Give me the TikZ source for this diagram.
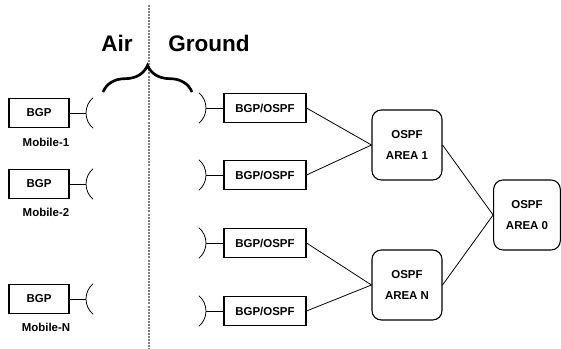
\documentclass[tikz,border=0pt]{standalone}
\usepackage{fontspec}
\setmainfont{Liberation Sans}
\usetikzlibrary{decorations.pathreplacing}
\begin{document}
\begin{tikzpicture}[x=0.75pt,y=-0.75pt,
  every node/.style={font=\fontsize{8.6}{15.75}\selectfont\bfseries, inner sep=0pt},
  mobilebox/.style={draw, line width=0.8pt, minimum width=45pt, minimum height=21.5pt},
  groundbox/.style={draw, line width=0.8pt, minimum width=61.5pt, minimum height=22pt},
  areabox/.style={draw, line width=0.8pt, rounded corners=7pt, minimum width=52.5pt, minimum height=52.5pt, align=center},
  arealabel/.style={font=\fontsize{16.9}{18}\selectfont\bfseries},
  link/.style={line width=0.6pt},
  radio/.style={line width=0.6pt},
  divider/.style={gray, line width=1.1pt, dash pattern=on 1.5pt off 0.8pt}
]
\useasboundingbox (0,0) rectangle (561,349);

% air / ground divider and labels
\coordinate (divtop) at (149,5);
\coordinate (divbot) at (149,349);
\draw[divider] (divtop) -- (divbot);
\node[arealabel] (air) at (117,43) {Air};
\node[arealabel] (ground) at (209,43) {Ground};
\coordinate (braceL) at (103,92);
\coordinate (braceR) at (192,92);
\draw[line width=2pt, decorate, decoration={brace, amplitude=20pt}] (braceL) -- (braceR);

% mobile nodes (air side)
\node[mobilebox] (m1) at (39,113) {BGP};
\node[mobilebox] (m2) at (39,184) {BGP};
\node[mobilebox] (mN) at (39,299) {BGP};
\node (m1l) at (46,142) {Mobile-1};
\node (m2l) at (46,212) {Mobile-2};
\node (mNl) at (46,327) {Mobile-N};

\foreach \m/\y in {m1/113, m2/184, mN/299}{
  \coordinate (\m a) at (86,\y);
  \draw[link] (\m.east) -- (\m a);
  \draw[radio] (\m a) arc[start angle=180, end angle=130, radius=20]
               (\m a) arc[start angle=180, end angle=230, radius=20];
}

% ground routers
\node[groundbox] (g1) at (265,108) {BGP/OSPF};
\node[groundbox] (g2) at (265,175) {BGP/OSPF};
\node[groundbox] (g3) at (265,243) {BGP/OSPF};
\node[groundbox] (g4) at (265,311) {BGP/OSPF};

\foreach \g/\y in {g1/108, g2/175, g3/243, g4/311}{
  \coordinate (\g a) at (206,\y);
  \draw[link] (\g a) -- (\g.west);
  \draw[radio] (\g a) arc[start angle=0, end angle=50, radius=20]
               (\g a) arc[start angle=0, end angle=-50, radius=20];
}

% OSPF areas
\node[areabox] (a1) at (407,145) {OSPF\\AREA 1};
\node[areabox] (aN) at (407,285) {OSPF\\AREA N};
\node[areabox, minimum width=50pt] (a0) at (527,215) {OSPF\\AREA 0};

\draw[link] (g1.east) -- (a1.west);
\draw[link] (g2.east) -- (a1.west);
\draw[link] (g3.east) -- (aN.west);
\draw[link] (g4.east) -- (aN.west);
\draw[link] (a1.east) -- (a0.west);
\draw[link] (aN.east) -- (a0.west);
\end{tikzpicture}
\end{document}
